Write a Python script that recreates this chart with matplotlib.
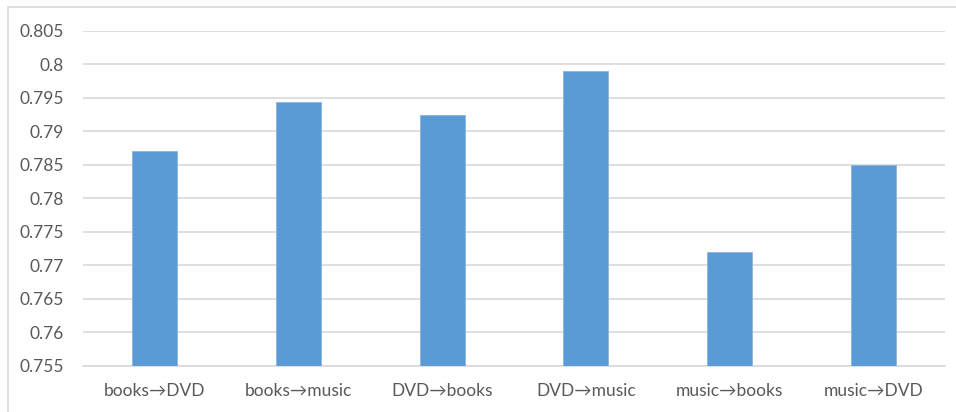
import matplotlib.pyplot as plt
from matplotlib.patches import Rectangle

# Datos
categorias = ["books→DVD", "books→music", "DVD→books", "DVD→music", "music→books", "music→DVD"]
valores = [0.787, 0.7944, 0.7925, 0.799, 0.772, 0.785]
ticks_y = [0.755, 0.76, 0.765, 0.77, 0.775, 0.78, 0.785, 0.79, 0.795, 0.8, 0.805]
etiquetas_y = ["0.755", "0.76", "0.765", "0.77", "0.775", "0.78", "0.785", "0.79", "0.795", "0.8", "0.805"]

plt.rcParams["font.family"] = ["Lato", "DejaVu Sans"]
gris = "#595959"

fig = plt.figure(figsize=(9.56, 4.12), dpi=100)
ax = fig.add_axes([0.0868, 0.1124, 0.9017, 0.8124])

# marco exterior del gráfico
fig.patches.append(Rectangle((8 / 956, -0.05), 1.0, 1.05 - 7 / 412, transform=fig.transFigure,
                             fill=False, edgecolor="#d9d9d9", linewidth=1.2))

x = range(len(categorias))
ax.bar(x, valores, width=0.313, color="#5b9bd5", edgecolor="#8ab6e3", linewidth=0.6, zorder=3)

ax.set_xlim(-0.5, len(categorias) - 0.5)
ax.set_ylim(0.755, 0.805)
ax.set_yticks(ticks_y)
ax.set_yticklabels(etiquetas_y)
ax.set_xticks(list(x))
ax.set_xticklabels(categorias)

ax.grid(axis="y", color="#d9d9d9", linewidth=1.2, zorder=0)
for s in ["top", "right", "left"]:
    ax.spines[s].set_visible(False)
ax.spines["bottom"].set_color("#d9d9d9")
ax.spines["bottom"].set_linewidth(1.2)
ax.tick_params(axis="both", length=0, labelsize=12.5, colors=gris)
ax.tick_params(axis="y", pad=13.5)
ax.tick_params(axis="x", pad=12.5)

plt.savefig("out.png", dpi=100)
